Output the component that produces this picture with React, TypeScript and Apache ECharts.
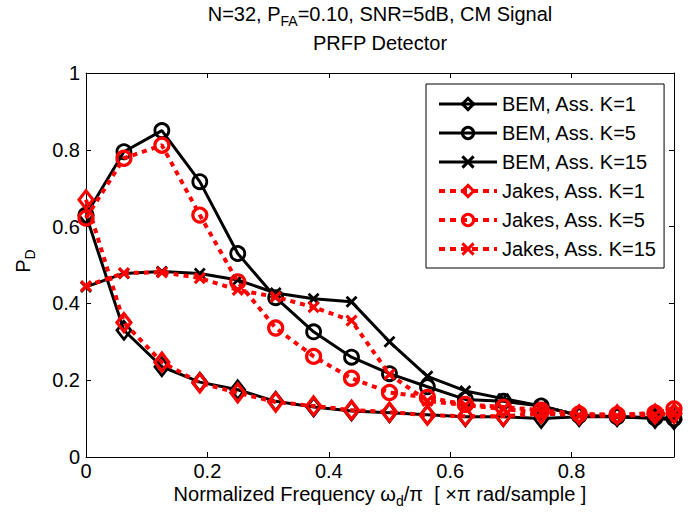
import React, { useEffect, useRef } from 'react';
import * as echarts from 'echarts';

const FONT = 'Liberation Sans, Arial, Helvetica, sans-serif';

// Normalized frequency (x), k/16 plus final 31/32
const xValues = [0, 0.0625, 0.125, 0.1875, 0.25, 0.3125, 0.375, 0.4375, 0.5, 0.5625, 0.625, 0.6875, 0.75, 0.8125, 0.875, 0.9375, 0.96875];

const bemK1 = [0.63, 0.33, 0.235, 0.195, 0.175, 0.145, 0.13, 0.12, 0.115, 0.11, 0.105, 0.105, 0.1, 0.105, 0.105, 0.1, 0.097];
const bemK5 = [0.63, 0.795, 0.85, 0.717, 0.53, 0.415, 0.326, 0.26, 0.217, 0.183, 0.15, 0.145, 0.133, 0.108, 0.105, 0.102, 0.1];
const bemK15 = [0.443, 0.478, 0.483, 0.478, 0.461, 0.427, 0.412, 0.404, 0.3, 0.21, 0.172, 0.152, 0.133, 0.108, 0.105, 0.102, 0.1];
const jakesK1 = [0.67, 0.35, 0.247, 0.193, 0.167, 0.143, 0.133, 0.122, 0.117, 0.109, 0.106, 0.106, 0.113, 0.11, 0.11, 0.112, 0.113];
const jakesK5 = [0.622, 0.778, 0.812, 0.63, 0.456, 0.336, 0.262, 0.205, 0.168, 0.155, 0.137, 0.13, 0.122, 0.112, 0.11, 0.115, 0.125];
const jakesK15 = [0.445, 0.479, 0.481, 0.466, 0.435, 0.417, 0.39, 0.355, 0.215, 0.146, 0.135, 0.125, 0.115, 0.108, 0.107, 0.11, 0.115];

const seriesNames = ['BEM, Ass. K=1', 'BEM, Ass. K=5', 'BEM, Ass. K=15', 'Jakes, Ass. K=1', 'Jakes, Ass. K=5', 'Jakes, Ass. K=15'];
const seriesValues = [bemK1, bemK5, bemK15, jakesK1, jakesK5, jakesK15];

const X_MARK = 'path://M0,0L10,10M10,0L0,10';

const styles = [
  { color: '#000000', dashed: false, symbol: 'diamond', size: [14, 18] },
  { color: '#000000', dashed: false, symbol: 'circle', size: 14 },
  { color: '#000000', dashed: false, symbol: X_MARK, size: 10 },
  { color: '#ff0000', dashed: true, symbol: 'diamond', size: [14, 18] },
  { color: '#ff0000', dashed: true, symbol: 'circle', size: 14 },
  { color: '#ff0000', dashed: true, symbol: X_MARK, size: 10 },
];

export default function App() {
  const ref = useRef<HTMLDivElement>(null);

  useEffect(() => {
    if (!ref.current) return;
    const chart = echarts.init(ref.current, undefined, { renderer: 'svg' });

    const series = seriesNames.map((name, i) => {
      const st = styles[i];
      return {
        name,
        type: 'line',
        xAxisIndex: 0,
        yAxisIndex: 0,
        data: xValues.map((x, j) => [x, seriesValues[i][j]]),
        symbol: st.symbol,
        symbolSize: st.size,
        showAllSymbol: true,
        itemStyle: {
          color: 'rgba(0,0,0,0)',
          borderColor: st.color,
          borderWidth: st.dashed ? 3.2 : 2.8,
        },
        lineStyle: {
          color: st.color,
          width: st.dashed ? 4 : 3,
          type: st.dashed ? [5, 5] : 'solid',
          cap: 'butt',
        },
        z: 2 + i,
      };
    });

    const legendData = seriesNames.map((name, i) => {
      const st = styles[i];
      return {
        name,
        lineStyle: {
          color: st.color,
          width: st.dashed ? 4 : 3.2,
          type: st.dashed ? [6, 5] : 'solid',
        },
        itemStyle: {
          color: 'rgba(0,0,0,0)',
          borderColor: st.color,
          borderWidth: 3,
        },
      };
    });

    const axisCommonX = {
      type: 'value',
      min: 0,
      max: 0.96875,
      interval: 0.2,
      axisLine: { show: true, onZero: false, lineStyle: { color: '#000', width: 1 } },
      axisTick: { show: true, inside: true, length: 5, lineStyle: { color: '#000', width: 1 } },
      splitLine: { show: false },
    };
    const axisCommonY = {
      type: 'value',
      min: 0,
      max: 1,
      interval: 0.2,
      axisLine: { show: true, onZero: false, lineStyle: { color: '#000', width: 1 } },
      axisTick: { show: true, inside: true, length: 5, lineStyle: { color: '#000', width: 1 } },
      splitLine: { show: false },
    };

    const subRich = {
      sub: { fontSize: 14, fontFamily: FONT, fill: '#000', lineHeight: 28, verticalAlign: 'bottom' },
    };

    chart.setOption({
      animation: false,
      backgroundColor: '#fff',
      grid: { left: 86, right: 20, top: 73, bottom: 57, containLabel: false },
      xAxis: [
        {
          ...axisCommonX,
          position: 'bottom',
          axisLabel: {
            show: true,
            color: '#000',
            fontSize: 20,
            fontFamily: FONT,
            margin: 4,
            showMaxLabel: false,
            formatter: (v: number) => (Math.abs(v * 5 - Math.round(v * 5)) < 1e-6 ? String(+v.toFixed(1)) : ''),
          },
        },
        { ...axisCommonX, position: 'top', axisLabel: { show: false } },
      ],
      yAxis: [
        {
          ...axisCommonY,
          position: 'left',
          axisLabel: { show: true, color: '#000', fontSize: 20, fontFamily: FONT, margin: 6 },
        },
        { ...axisCommonY, position: 'right', axisLabel: { show: false } },
      ],
      legend: {
        show: true,
        orient: 'vertical',
        left: 426,
        top: 84,
        padding: [10, 7, 9, 11],
        itemWidth: 58,
        itemHeight: 14,
        itemGap: 9,
        backgroundColor: '#fff',
        borderColor: '#000',
        borderWidth: 1,
        borderRadius: 0,
        selectedMode: false,
        textStyle: { color: '#000', fontSize: 20, fontFamily: FONT, lineHeight: 18 },
        data: legendData,
      },
      graphic: [
        {
          type: 'text',
          x: 380,
          y: 14,
          style: {
            text: 'N=32, P{sub|FA}=0.10, SNR=5dB, CM Signal',
            fontSize: 20,
            fontFamily: FONT,
            fill: '#000',
            align: 'center',
            verticalAlign: 'middle',
            rich: subRich,
          },
        },
        {
          type: 'text',
          x: 380,
          y: 42.5,
          style: {
            text: 'PRFP Detector',
            fontSize: 20,
            fontFamily: FONT,
            fill: '#000',
            align: 'center',
            verticalAlign: 'middle',
          },
        },
        {
          type: 'text',
          x: 23,
          y: 261,
          rotation: Math.PI / 2,
          style: {
            text: 'P{sub|D}',
            fontSize: 20,
            fontFamily: FONT,
            fill: '#000',
            align: 'center',
            verticalAlign: 'middle',
            rich: subRich,
          },
        },
        {
          type: 'text',
          x: 380,
          y: 494,
          style: {
            text: 'Normalized Frequency \u03c9{sub|d}/\u03c0  [ \u00d7\u03c0 rad/sample ]',
            fontSize: 20,
            fontFamily: FONT,
            fill: '#000',
            align: 'center',
            verticalAlign: 'middle',
            rich: subRich,
          },
        },
      ],
      series,
    });

    return () => chart.dispose();
  }, []);

  return (
    <div
      ref={ref}
      style={{ position: 'fixed', left: 0, top: 0, width: 694, height: 514, background: '#fff' }}
    />
  );
}
